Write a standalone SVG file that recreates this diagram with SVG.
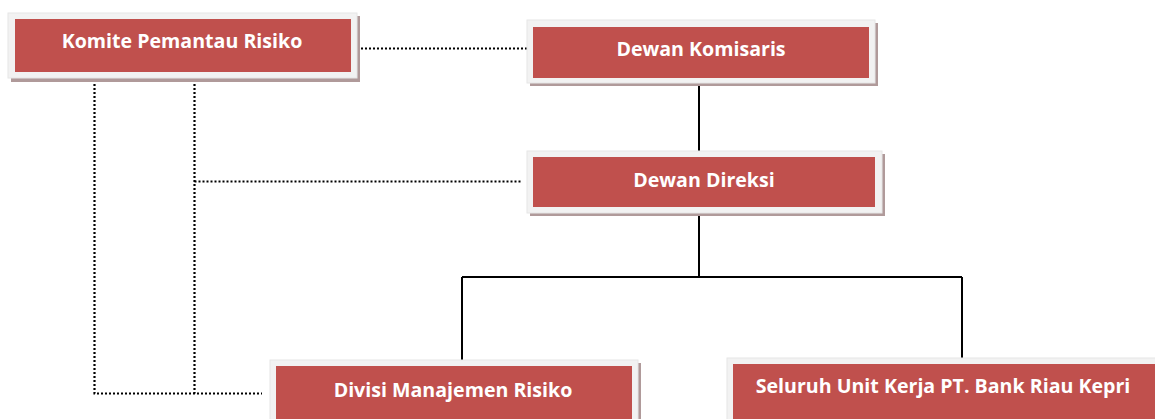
<svg xmlns="http://www.w3.org/2000/svg" width="1155" height="419" viewBox="0 0 1155 419">
<style>
.sh{fill:#b09a9a;}
.fr{fill:#f2f2f2;stroke:#e6e6e6;stroke-width:1;}
.bx{fill:#c0504d;}
.t{font-family:"Open Sans","Liberation Sans",sans-serif;font-weight:bold;font-size:19.6px;fill:#ffffff;text-anchor:middle;}
.dot{stroke:#000;stroke-width:2.2;stroke-dasharray:2 2;fill:none;}
.sol{stroke:#000;stroke-width:2;fill:none;}
</style>
<rect width="1155" height="419" fill="#ffffff"/>
<g id="connectors">
<path class="dot" d="M357 48.5H527"/>
<path class="dot" d="M94.5 80V393.5H262"/>
<path class="dot" d="M194.5 80V393.5"/>
<path class="dot" d="M194.5 181.5H522"/>
<path class="sol" d="M699 83V151"/>
<path class="sol" d="M699 213V277"/>
<path class="sol" d="M462 277H962"/>
<path class="sol" d="M462 277V360"/>
<path class="sol" d="M962 277V358"/>
</g>
<g id="komite">
<rect class="sh" x="11" y="16" width="349" height="66"/>
<rect class="fr" x="8" y="13" width="349" height="65"/>
<rect class="bx" x="15" y="19" width="336" height="53"/>
<text class="t" x="182" y="48">Komite Pemantau Risiko</text>
</g>
<g id="komisaris">
<rect class="sh" x="530" y="23" width="348" height="63"/>
<rect class="fr" x="527" y="20" width="348" height="63"/>
<rect class="bx" x="533" y="27" width="336" height="51"/>
<text class="t" x="701" y="56">Dewan Komisaris</text>
</g>
<g id="direksi">
<rect class="sh" x="530" y="154" width="355" height="62"/>
<rect class="fr" x="527" y="151" width="355" height="62"/>
<rect class="bx" x="533" y="157" width="342" height="50"/>
<text class="t" x="704" y="187">Dewan Direksi</text>
</g>
<g id="divisi">
<rect class="sh" x="273" y="363" width="368" height="60"/>
<rect class="fr" x="270" y="360" width="368" height="62"/>
<rect class="bx" x="276" y="366" width="356" height="56"/>
<text class="t" x="453" y="397">Divisi Manajemen Risiko</text>
</g>
<g id="seluruh">
<rect class="fr" x="727" y="358" width="440" height="64"/>
<rect class="bx" x="733" y="364" width="430" height="58"/>
<text class="t" x="943" y="393">Seluruh Unit Kerja PT. Bank Riau Kepri</text>
</g>
</svg>
